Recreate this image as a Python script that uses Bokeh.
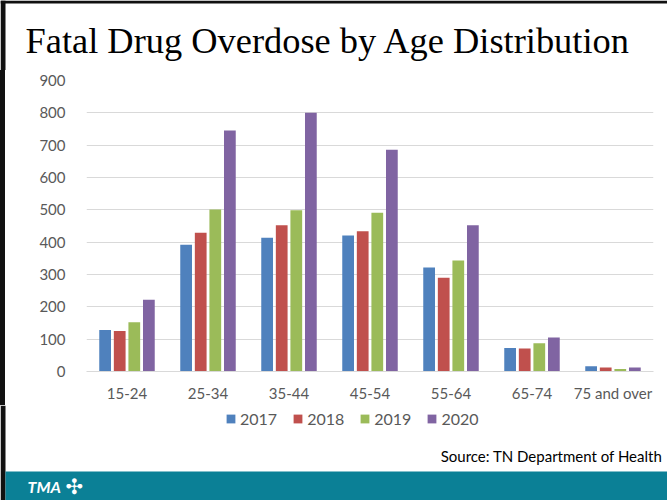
from bokeh.plotting import figure
from bokeh.layouts import column, row
from bokeh.models import (ColumnDataSource, Label, BoxAnnotation, Legend, LegendItem,
                          SingleIntervalTicker, Range1d, Spacer)
from bokeh.transform import dodge
from bokeh.embed import file_html
from bokeh.resources import INLINE

categories = ["15-24", "25-34", "35-44", "45-54", "55-64", "65-74", "75 and over"]
years = ["2017", "2018", "2019", "2020"]
y2017 = [128, 392, 414, 421, 322, 73, 16]
y2018 = [125, 429, 452, 434, 290, 71, 12]
y2019 = [152, 501, 499, 491, 343, 87, 8]
y2020 = [222, 745, 800, 686, 452, 105, 12]
colors = ["#4F81BD", "#C0504D", "#9BBB59", "#8064A2"]
title_text = "Fatal Drug Overdose by Age Distribution"
source_text = "Source: TN Department of Health"

W = 667
BORDER = "#111111"
TEAL = "#0B8096"
GREY = "#595959"


def blank_fig(width, height, y0, y1):
    f = figure(width=width, height=height, x_range=Range1d(0, width), y_range=Range1d(y1, y0),
               x_axis_type=None, y_axis_type=None, toolbar_location=None,
               output_backend="svg", min_border=0, title=None)
    f.outline_line_color = None
    f.background_fill_color = "white"
    f.border_fill_color = "white"
    return f


def box(f, l, r, t, b, color):
    f.add_layout(BoxAnnotation(left=l, right=r, top=t, bottom=b, fill_color=color,
                               fill_alpha=1, line_color=None))


# ---------- top strip (title) : canvas y 0..70
top = blank_fig(W, 70, 0, 70)
box(top, 0, 5, 0, 70, BORDER)
box(top, 0, W, 0, 3, BORDER)
top.add_layout(Label(x=25, y=40, text=title_text, text_font="Liberation Serif",
                     text_font_size="36.4px", text_color="#000000",
                     text_baseline="alphabetic", text_align="left"))

# ---------- main chart : canvas y 70..405
MH = 335
src = ColumnDataSource(dict(cat=categories, y2017=y2017, y2018=y2018,
                            y2019=y2019, y2020=y2020))
p = figure(x_range=categories, y_range=(0, 900), width=W - 5, height=MH,
           output_backend="svg", toolbar_location=None, title=None,
           min_border_left=81, min_border_right=14, min_border_top=10, min_border_bottom=34)
p.outline_line_color = None
p.background_fill_color = "white"
p.border_fill_color = "white"

p.yaxis.ticker = SingleIntervalTicker(interval=100)
p.yaxis.axis_line_color = None
p.yaxis.major_tick_line_color = None
p.yaxis.minor_tick_line_color = None
p.yaxis.major_tick_out = 0
p.yaxis.major_tick_in = 0
p.yaxis.major_label_standoff = 17
p.yaxis.major_label_text_font = "Lato"
p.yaxis.major_label_text_font_size = "15px"
p.yaxis.major_label_text_color = GREY

p.xaxis.axis_line_color = "#D9D9D9"
p.xaxis.axis_line_width = 1
p.xaxis.major_tick_line_color = None
p.xaxis.minor_tick_line_color = None
p.xaxis.major_tick_out = 0
p.xaxis.major_tick_in = 0
p.xaxis.major_label_standoff = 12
p.xaxis.major_label_text_font = "Lato"
p.xaxis.major_label_text_font_size = "15px"
p.xaxis.major_label_text_color = GREY

p.xgrid.grid_line_color = None
p.ygrid.grid_line_color = "#D9D9D9"
p.ygrid.grid_line_width = 1

offsets = [-0.27, -0.09, 0.09, 0.27]
cols = ["y2017", "y2018", "y2019", "y2020"]
for col, off, c in zip(cols, offsets, colors):
    p.vbar(x=dodge("cat", off, range=p.x_range), top=col, width=0.145,
           source=src, fill_color=c, line_color=None)

left_bar = Spacer(width=5, height=MH, styles={"background-color": BORDER})

# ---------- bottom strip : canvas y 405..500
BH = 95
bot = blank_fig(W, BH, 405, 500)
box(bot, 0, 5, 405, 500, BORDER)
box(bot, 5, W, 471, 500, TEAL)

key_renderers = []
for c in colors:
    key_renderers.append(bot.vbar(x=[-50], top=[0], width=1, fill_color=c, line_color=None))
legend = Legend(items=[LegendItem(label=yr, renderers=[r]) for yr, r in zip(years, key_renderers)],
                orientation="horizontal", location=(225, 500 - 428),
                glyph_width=11, glyph_height=11, label_standoff=4, spacing=15,
                padding=0, margin=0, border_line_color=None, background_fill_alpha=0,
                label_text_font="Lato", label_text_font_size="16px",
                label_text_color=GREY, label_height=16)
bot.add_layout(legend, "center")

bot.add_layout(Label(x=662, y=455, text=source_text, text_font="Lato", text_font_size="15px",
                     text_color="#000000", text_baseline="middle", text_align="right"))
bot.add_layout(Label(x=27, y=486, text="TMA", text_font="Lato", text_font_size="16px",
                     text_font_style="bold italic", text_color="white",
                     text_baseline="middle", text_align="left"))
bot.add_layout(Label(x=65, y=486, text="\u2723", text_font="DejaVu Sans", text_font_size="21px",
                     text_color="white", text_baseline="middle", text_align="left"))

layout = column(top, row(left_bar, p, spacing=0), bot, spacing=0)
open("out.html", "w").write(file_html(layout, INLINE))
